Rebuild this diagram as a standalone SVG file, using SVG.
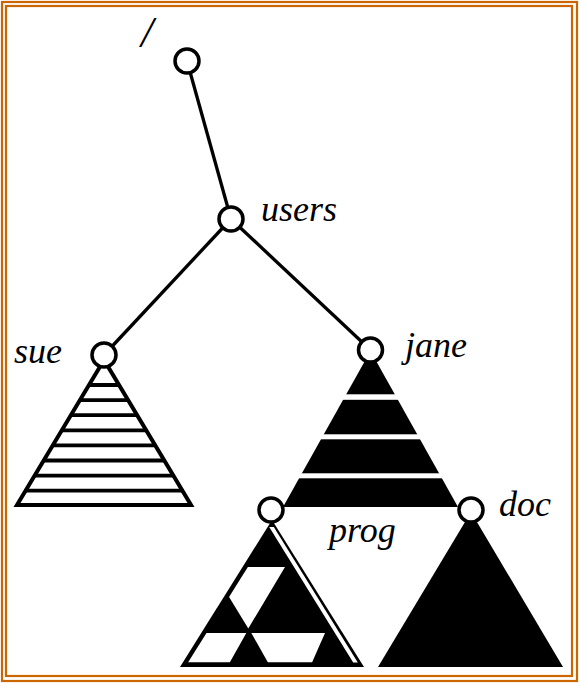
<svg xmlns="http://www.w3.org/2000/svg" width="580" height="683" viewBox="0 0 580 683">
  <style>
    .frame { fill: none; stroke: #cc6600; stroke-width: 2.2; }
    .edge { stroke: #000; stroke-width: 3.3; fill: none; }
    .node { fill: #fff; stroke: #000; stroke-width: 3.5; }
    .lbl { font-family: "Liberation Serif", "Times New Roman", serif; font-style: italic; font-size: 36px; fill: #000; }
    .blk { fill: #000; }
    .wht { fill: #fff; }
    .hatch { stroke: #000; stroke-width: 3.8; }
  </style>
  <defs>
    <clipPath id="sueClip">
      <polygon points="104,358 14,507 194,507"/>
    </clipPath>
    <clipPath id="progClip">
      <polygon points="272,528.5 188,662.5 356,662.5"/>
    </clipPath>
  </defs>
  <rect x="0" y="0" width="580" height="683" fill="#fff"/>
  <rect class="frame" x="2" y="2" width="575" height="679"/>
  <rect class="frame" x="6" y="6" width="566" height="670"/>

  <g id="connectors">
    <line class="edge" x1="187" y1="61" x2="231" y2="219"/>
    <line class="edge" x1="231" y1="219" x2="104" y2="355"/>
    <line class="edge" x1="231" y1="219" x2="370.5" y2="350"/>
  </g>

  <g id="root">
    <circle class="node" cx="187" cy="61" r="12"/>
    <text class="lbl" x="141" y="47" style="font-size:44px">/</text>
  </g>

  <g id="users">
    <circle class="node" cx="231" cy="219" r="12"/>
    <text class="lbl" x="261" y="221">users</text>
  </g>

  <g id="sue">
    <g clip-path="url(#sueClip)">
      <line class="hatch" x1="0" y1="385" x2="200" y2="385"/>
      <line class="hatch" x1="0" y1="400.1" x2="200" y2="400.1"/>
      <line class="hatch" x1="0" y1="415.2" x2="200" y2="415.2"/>
      <line class="hatch" x1="0" y1="430.3" x2="200" y2="430.3"/>
      <line class="hatch" x1="0" y1="445.4" x2="200" y2="445.4"/>
      <line class="hatch" x1="0" y1="460.5" x2="200" y2="460.5"/>
      <line class="hatch" x1="0" y1="475.6" x2="200" y2="475.6"/>
      <line class="hatch" x1="0" y1="490.7" x2="200" y2="490.7"/>
    </g>
    <polygon points="104,360 17,505 191,505" fill="none" stroke="#000" stroke-width="4"/>
    <circle class="node" cx="104" cy="355" r="12"/>
    <text class="lbl" x="14" y="363">sue</text>
  </g>

  <g id="jane">
    <polygon class="blk" points="370.5,351 283,507 458,507"/>
    <rect class="wht" x="330" y="394.3" width="82" height="5.5"/>
    <rect class="wht" x="310" y="434.3" width="122" height="5"/>
    <rect class="wht" x="290" y="473.3" width="162" height="5"/>
    <circle class="node" cx="370.5" cy="350" r="12"/>
    <text class="lbl" x="405" y="357">jane</text>
  </g>

  <g id="prog">
    <polygon class="blk" points="272,520 180,667 364,667"/>
    <g clip-path="url(#progClip)">
      <polygon class="wht" points="235,567 285,567 248.3,628.5 224.8,590"/>
      <polygon class="wht" points="190,633 246.3,633 229.7,662.5 175,662.5"/>
      <polygon class="wht" points="251.3,633 325,633 312,662.5 268,662.5"/>
    </g>
    <polygon class="wht" points="269.2,527 273.8,527 357.8,662.5 353.2,662.5"/>
    <circle class="node" cx="271" cy="510" r="12"/>
    <text class="lbl" x="329" y="542">prog</text>
  </g>

  <g id="doc">
    <polygon class="blk" points="471,512 378,667 563,667"/>
    <circle class="node" cx="471" cy="510" r="12"/>
    <text class="lbl" x="499" y="516">doc</text>
  </g>
</svg>
